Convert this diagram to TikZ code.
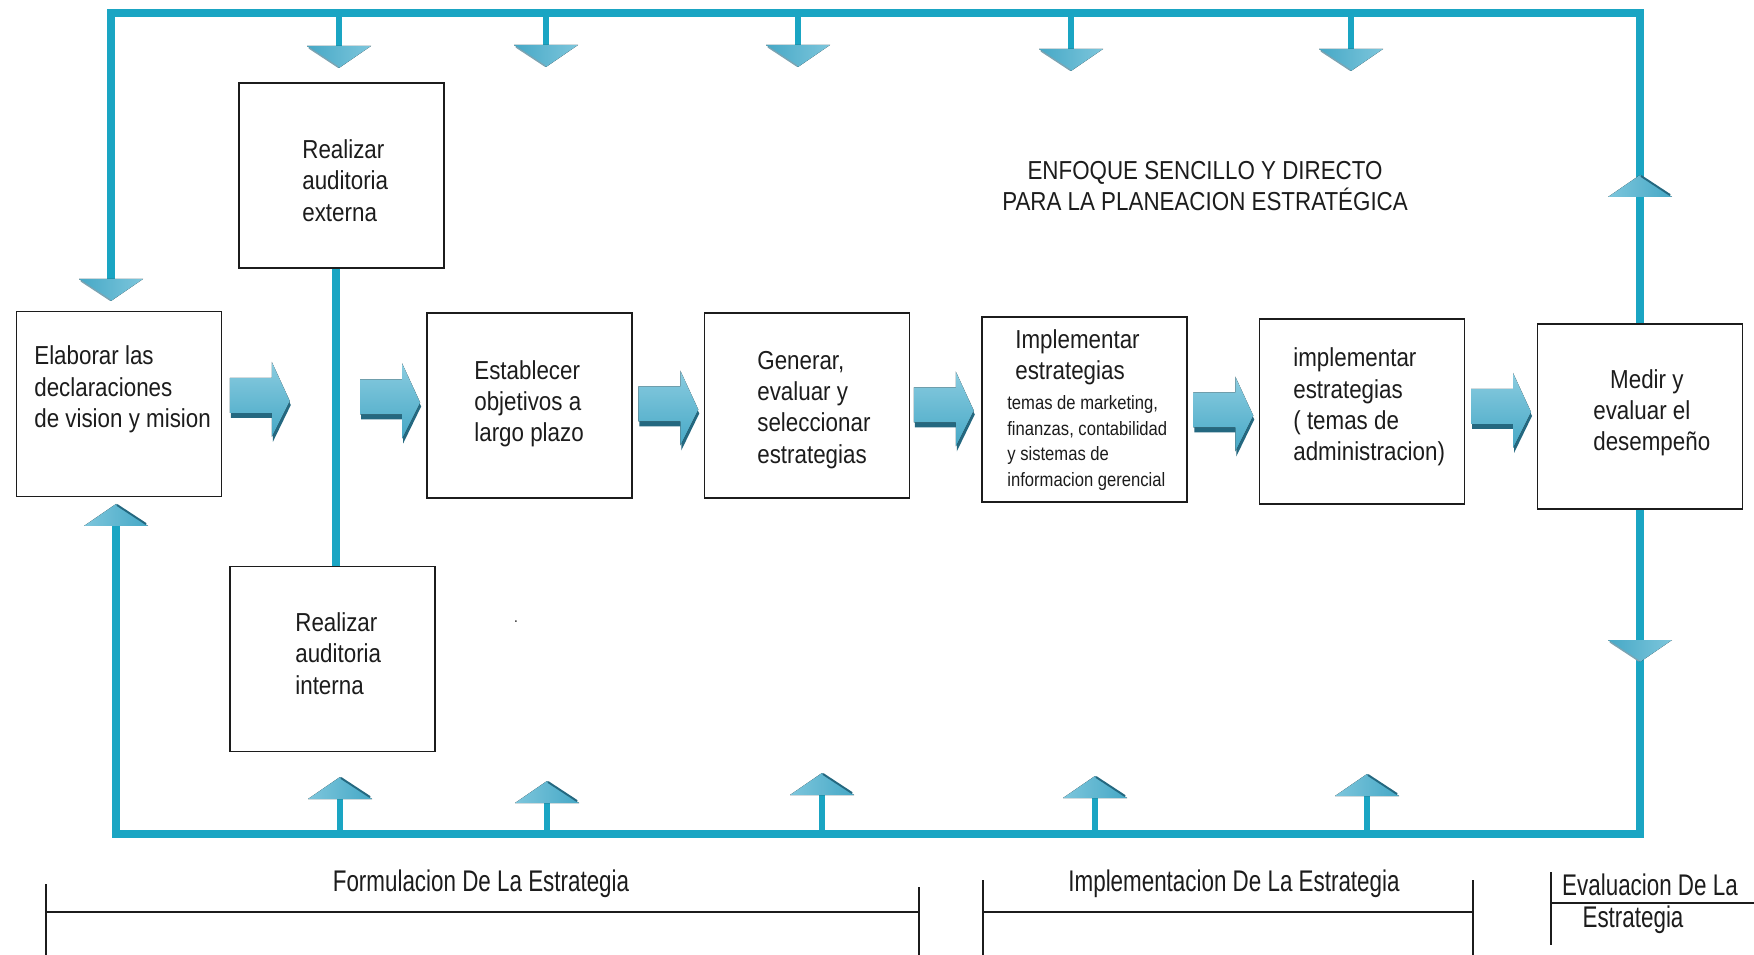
\documentclass[tikz,border=0pt]{standalone}
\usepackage{fontspec}
\setmainfont{Liberation Sans}[FakeStretch=0.86]
\newfontfamily\narrowsf{Liberation Sans}[FakeStretch=0.75]
\usetikzlibrary{calc,backgrounds}

\definecolor{loopblue}{RGB}{26,165,195}
\definecolor{arrowlight}{RGB}{125,198,220}
\definecolor{arrowmid}{RGB}{70,168,198}
\definecolor{arrowdark}{RGB}{36,104,128}
\definecolor{inkgray}{RGB}{28,28,28}

\tikzset{
  box/.style={draw=inkgray, line width=0.9pt, fill=white,
              minimum width=4.1cm, minimum height=3.7cm, inner sep=0pt},
  boxtext/.style={text=inkgray, align=left, inner sep=0pt, anchor=west, yshift=-1.4pt,
              font=\fontsize{14.8}{17.8}\selectfont},
  smalltext/.style={text=inkgray, align=left, inner sep=0pt, anchor=west, yshift=-0.8pt,
              font=\fontsize{11}{14.6}\selectfont},
  phasetext/.style={text=inkgray, inner sep=0pt,
              font=\narrowsf\fontsize{17}{17.5}\selectfont},
  loopline/.style={draw=loopblue, line width=4.5pt},
  stemline/.style={draw=loopblue, line width=3.1pt},
  bracket/.style={draw=inkgray, line width=0.7pt},
}

% flat arrowhead pointing up; #1 = x, #2 = y of its base
\newcommand\upHead[2]{%
  \fill[left color=arrowlight, right color=arrowmid]
    (#1-32,#2) -- (#1,#2-22) -- (#1+32,#2) -- cycle;
  \draw[arrowdark, line width=1.1pt] (#1+1,#2-21) -- (#1+30,#2-2);
}
% flat arrowhead pointing down; #1 = x, #2 = y of its top edge
\newcommand\downHead[2]{%
  \fill[left color=arrowmid, right color=arrowlight]
    (#1-32,#2) -- (#1,#2+22) -- (#1+32,#2) -- cycle;
  \draw[arrowdark!60, line width=0.8pt] (#1-30,#2+2) -- (#1-1,#2+21);
}
% thick shaded block arrow pointing right, centred on coordinate #1
\newcommand\blockArrow[1]{%
  \begin{scope}[shift={(#1)}]
    \fill[arrowdark] (-29,-18) -- (13,-18) -- (13,-34) -- (31,5) -- (13,42) -- (13,18) -- (-29,18) -- cycle;
    \fill[top color=arrowlight!90!white, bottom color=arrowmid]
      (-30,-22) -- (12,-22) -- (12,-38) -- (30,1) -- (12,37) -- (12,13) -- (-30,13) -- cycle;
  \end{scope}
}

\begin{document}
\begin{tikzpicture}[x=0.02cm, y=-0.02cm]
\useasboundingbox (0,0) rectangle (1754,955);

% process boxes
\node[box] (elab)  at (119,404)    {};
\node[box] (ext)   at (341.5,175.5) {};
\node[box] (int)   at (332.5,659)   {};
\node[box] (est)   at (529.5,405.5) {};
\node[box] (gen)   at (807,405.5)   {};
\node[box] (impA)  at (1084.5,409.5) {};
\node[box] (impB)  at (1362,411.5)  {};
\node[box] (medir) at (1640,416.5)  {};

% box texts
\node[boxtext] (elabT) at (34,387)    {Elaborar las\\declaraciones\\de vision y mision};
\node[boxtext] (extT)  at (302,178)   {Realizar\\auditoria\\externa};
\node[boxtext] (intT)  at (295,651)   {Realizar\\auditoria\\interna};
\node[boxtext] (estT)  at (474,401.5) {Establecer\\objetivos a\\largo plazo};
\node[boxtext] (genT)  at (757,407.5) {Generar,\\evaluar y\\seleccionar\\estrategias};
\node[boxtext] (impAT) at (1015,354.5) {Implementar\\estrategias};
\node[smalltext] (impAS) at (1007,441.5) {temas de marketing,\\finanzas, contabilidad\\y sistemas de\\informacion gerencial};
\node[boxtext] (impBT) at (1293,404.5) {implementar\\estrategias\\( temas de\\administracion)};
\node[boxtext] (medirT) at (1593,410.5) {\hspace*{9.6pt}Medir y\\evaluar el\\desempeño};

% heading
\node[text=inkgray, align=center, inner sep=0pt, font=\fontsize{14.8}{17.8}\selectfont]
  (title) at (1205,186) {ENFOQUE SENCILLO Y DIRECTO\\PARA LA PLANEACION ESTRATÉGICA};
\node[text=inkgray, inner sep=0pt, font=\fontsize{9}{10}\selectfont] (dot) at (516,622) {.};

% feedback loop and the audit link
\coordinate (tl)   at (111,13);
\coordinate (ltop) at (111,284);
\coordinate (bl)   at (116,834);
\coordinate (lbot) at (116,520);
\coordinate (vx)   at (336,0);
\begin{pgfonlayer}{background}
  \fill[white] (0,0) rectangle (1754,955);
  \draw[loopline] (medir.center) -- (medir.center |- tl) -- (tl) -- (ltop);
  \draw[loopline] (medir.center) -- (medir.center |- bl) -- (bl) -- (lbot);
  \draw[loopline] (vx |- ext.center) -- (vx |- int.center);
\end{pgfonlayer}

% arrowheads along the loop
\downHead{111}{279}
\upHead{116}{526}
\upHead{1640}{197}
\downHead{1640}{640}

% stems from the top line
\foreach \x/\y in {339/46, 546/45, 798/45, 1071/49, 1351/49}{
  \draw[stemline] (\x,13) -- (\x,\y+3);
  \downHead{\x}{\y}
}
% stems from the bottom line
\foreach \x/\y in {340/799, 547/803, 822/795, 1095/798, 1367/796}{
  \draw[stemline] (\x,834) -- (\x,\y-3);
  \upHead{\x}{\y}
}

% block arrows between the stages
\path ($(elab.east)!0.33!(vx |- elab.east)$) ++(0,-4) coordinate (a1);
\path ($(vx |- est.west)!0.6!(est.west)$) ++(0,-4) coordinate (a2);
\path ($(est.east)!0.5!(gen.west)$) ++(0,3) coordinate (a3);
\path ($(gen.east)!0.5!(impA.west)$) ++(-2,2) coordinate (a4);
\path ($(impA.east)!0.5!(impB.west)$) ++(0,4) coordinate (a5);
\path ($(impB.east)!0.5!(medir.west)$) ++(0,-3) coordinate (a6);
\foreach \a in {a1,a2,a3,a4,a5,a6}{\blockArrow{\a}}

% phase brackets
\node[phasetext] (formT) at (481,884) {Formulacion De La Estrategia};
\node[phasetext] (implT) at (1234,884) {Implementacion De La Estrategia};
\node[phasetext] (evalT1) at (1650,885) {Evaluacion De La};
\node[phasetext] (evalT2) at (1633,920) {Estrategia};
\draw[bracket] (46,884) -- (46,955);
\draw[bracket] (919,887) -- (919,955);
\draw[bracket] (46,912) -- (919,912);
\draw[bracket] (983,880) -- (983,955);
\draw[bracket] (1473,880) -- (1473,955);
\draw[bracket] (983,912) -- (1473,912);
\draw[bracket] (1551,872) -- (1551,945);
\draw[bracket] (1551,903) -- (1754,903);
\end{tikzpicture}
\end{document}
